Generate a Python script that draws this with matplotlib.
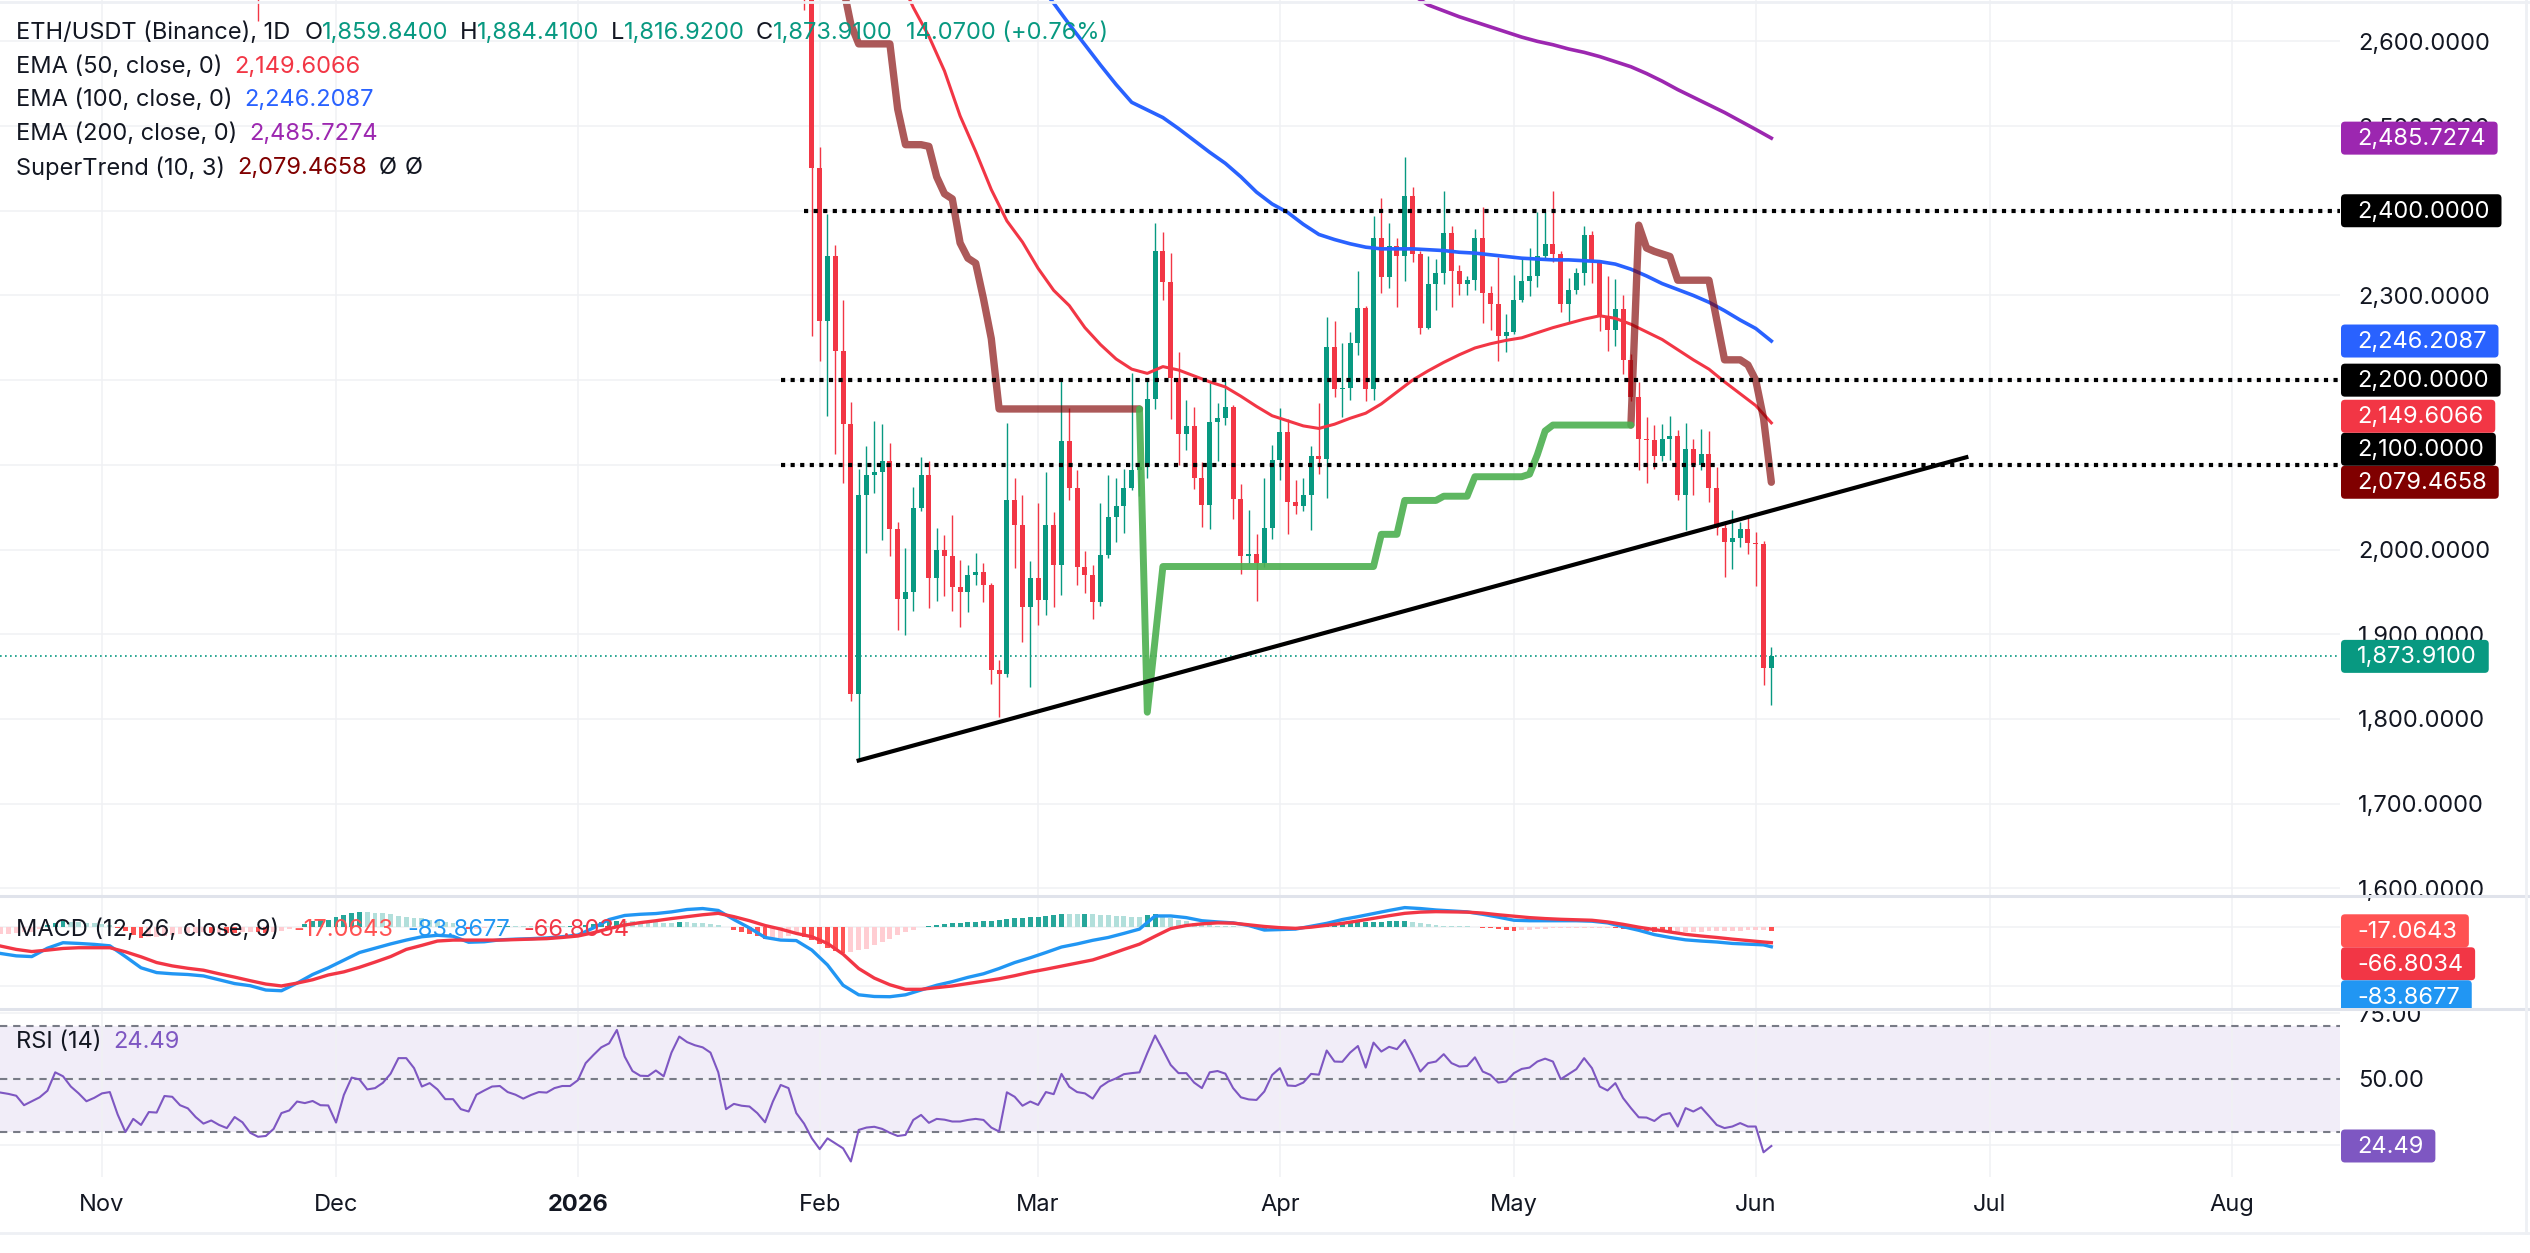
import numpy as np
import pandas as pd
import matplotlib
matplotlib.use("Agg")
import matplotlib.pyplot as plt
import matplotlib.dates as mdates
from matplotlib.lines import Line2D
from matplotlib.patches import FancyBboxPatch
from matplotlib.ticker import FuncFormatter
from matplotlib.transforms import IdentityTransform, Bbox

plt.rcParams["font.family"] = ["Inter", "DejaVu Sans"]

# ---------------- data ----------------
BASE = pd.Timestamp("2025-11-01")          # day 0 for the indicator series

# daily candles; only the Nov 21 wick and Jan 30 onwards reach into view
candle_dates = pd.DatetimeIndex(["2025-11-21"]).append(pd.date_range("2026-01-30", "2026-06-03"))
opens = [2832, 2790, 2705,
         2451, 2270, 2346, 2234, 2148, 1829, 2064, 2088, 2092, 2105, 2024, 1942, 1950, 2049, 2088, 1967,
         1999, 1992, 1956, 1950, 1970, 1973, 1958, 1858, 1853, 2058, 2029, 1932,
         1966, 1941, 2029, 1982, 2128, 2073, 1979, 1970, 1938, 1994, 2038, 2052, 2073, 2094, 2097, 2178,
         2352, 2316, 2203, 2137, 2146, 2084, 2053, 2151, 2155, 2168, 2060, 1992, 1995, 1984, 2026,
         2106, 2139, 2056, 2052, 2064, 2110, 2107, 2239, 2189, 2191, 2244, 2285, 2190, 2368, 2322, 2358,
         2347, 2418, 2349, 2262, 2313, 2327, 2374, 2329, 2313, 2318, 2368, 2303, 2290, 2252,
         2257, 2295, 2317, 2323, 2346, 2361, 2349, 2290, 2306, 2326, 2371, 2339, 2276, 2259, 2284, 2224,
         2180, 2131, 2129, 2110, 2130, 2134, 2065, 2119, 2100, 2113, 2073, 2026, 2009, 2014, 2024,
         2008, 2006, 1859.84]
highs = [2855, 2830, 2720,
         2475, 2396, 2359, 2295, 2174, 2095, 2122, 2152, 2148, 2126, 2033, 2002, 2074, 2109, 2104, 2026,
         2017, 2041, 1988, 1982, 1996, 1984, 1960, 1870, 2149, 2084, 2064, 1986,
         2055, 2092, 2044, 2199, 2167, 2094, 1998, 1982, 2055, 2088, 2085, 2095, 2209, 2106, 2202, 2385,
         2375, 2350, 2233, 2176, 2168, 2103, 2197, 2173, 2199, 2171, 2077, 2047, 2018, 2084, 2123,
         2167, 2154, 2082, 2084, 2122, 2173, 2274, 2270, 2244, 2257, 2329, 2288, 2394, 2415, 2385, 2368,
         2464, 2428, 2353, 2346, 2343, 2423, 2382, 2336, 2323, 2379, 2404, 2311, 2345, 2278,
         2324, 2343, 2356, 2398, 2398, 2423, 2352, 2321, 2333, 2382, 2376, 2340, 2323, 2319, 2300, 2231,
         2198, 2157, 2147, 2148, 2158, 2141, 2149, 2130, 2142, 2140, 2098, 2032, 2047, 2033, 2039,
         2021, 2010, 1884.41]
lows = [2624, 2637, 2252,
        2223, 2158, 2113, 2078, 1821, 1751, 1996, 2067, 2011, 1992, 1905, 1899, 1927, 2045, 1931, 1939,
        1945, 1927, 1909, 1926, 1958, 1938, 1841, 1802, 1849, 1978, 1891, 1838,
        1911, 1923, 1932, 1946, 2058, 1958, 1949, 1918, 1933, 1990, 2009, 2020, 2070, 2063, 2084, 2166,
        2295, 2154, 2100, 2117, 2072, 2027, 2024, 2104, 2147, 2036, 1971, 1984, 1939, 1980, 2012,
        2082, 2018, 2042, 2045, 2023, 2089, 2061, 2180, 2156, 2176, 2230, 2175, 2176, 2303, 2309, 2286,
        2317, 2340, 2254, 2260, 2283, 2313, 2286, 2300, 2300, 2306, 2267, 2259, 2223, 2233,
        2255, 2292, 2299, 2310, 2343, 2339, 2281, 2267, 2302, 2312, 2315, 2258, 2235, 2240, 2207, 2175,
        2094, 2079, 2095, 2105, 2106, 2059, 2023, 2064, 2094, 2056, 2017, 1968, 1977, 2003, 1995,
        1957, 1840, 1816.92]
closes = [2763, 2705, 2451,
          2270, 2346, 2234, 2148, 1829, 2064, 2088, 2092, 2105, 2024, 1942, 1950, 2049, 2088, 1967, 1999,
          1992, 1956, 1950, 1970, 1973, 1958, 1858, 1853, 2058, 2029, 1932, 1966,
          1941, 2029, 1982, 2128, 2073, 1979, 1970, 1938, 1994, 2038, 2052, 2073, 2094, 2097, 2178, 2352,
          2316, 2203, 2137, 2146, 2084, 2053, 2151, 2155, 2168, 2060, 1992, 1995, 1984, 2026, 2106,
          2139, 2056, 2052, 2064, 2110, 2107, 2239, 2189, 2191, 2244, 2285, 2190, 2368, 2322, 2358, 2347,
          2418, 2349, 2262, 2313, 2327, 2374, 2329, 2313, 2318, 2368, 2303, 2290, 2252, 2257,
          2295, 2317, 2323, 2346, 2361, 2349, 2290, 2306, 2326, 2371, 2339, 2276, 2259, 2284, 2224, 2180,
          2131, 2129, 2110, 2130, 2134, 2065, 2119, 2100, 2113, 2073, 2026, 2009, 2014, 2024, 2008,
          2006, 1860, 1873.91]

# moving averages (day offsets from BASE)
ema50_days = list(range(102, 213, 2)) + [214]
ema50 = [2680, 2640, 2606, 2565, 2512, 2470, 2425, 2388, 2363, 2332, 2306, 2288, 2262, 2242, 2225,
         2213, 2208, 2216, 2212, 2205, 2198, 2192, 2181, 2169, 2158, 2152, 2146, 2143, 2148, 2155,
         2161, 2172, 2186, 2200, 2211, 2221, 2230, 2238, 2243, 2247, 2250, 2256, 2262, 2267, 2272,
         2276, 2273, 2266, 2257, 2248, 2236, 2224, 2213, 2198, 2184, 2170, 2149.61]
ema100_days = list(range(120, 213, 2)) + [214]
ema100 = [2668, 2645, 2620, 2596, 2572, 2549, 2528, 2519, 2510, 2497, 2483, 2469, 2456, 2440, 2422,
          2408, 2398, 2384, 2372, 2366, 2361, 2357, 2355, 2355, 2355, 2354, 2353, 2351, 2350, 2348,
          2346, 2344, 2343, 2342, 2342, 2341, 2340, 2337, 2331, 2323, 2314, 2307, 2300, 2292, 2282,
          2271, 2261, 2246.21]
ema200_days = list(range(168, 213, 2)) + [214]
ema200 = [2655, 2643, 2636, 2629, 2623, 2617, 2611, 2605, 2600, 2596, 2591, 2587, 2582, 2576, 2570,
          2562, 2553, 2543, 2534, 2525, 2516, 2506, 2496, 2485.73]

# SuperTrend (10, 3): two down-trend runs and one up-trend run
st_down1_days = list(range(94, 134))
st_down1 = [2700, 2665, 2620, 2597, 2597, 2597, 2597, 2597, 2520, 2478, 2478, 2478, 2476, 2440, 2420,
            2414, 2362, 2344, 2338, 2296, 2249] + [2166] * 19
st_up_days = list(range(133, 197))
st_up = [2166, 1808, 1894] + [1980] * 28 + [2018] * 3 + [2058] * 5 + [2063] * 4 + [2086] * 7 \
        + [2089, 2112, 2140] + [2147] * 11
st_down2_days = list(range(196, 215))
st_down2 = [2147, 2383, 2356, 2352, 2349, 2346, 2318, 2318, 2318, 2318, 2318, 2271, 2224, 2224, 2224,
            2218, 2200, 2155, 2079.47]

# drawn levels and trendline
levels = [2400, 2200, 2100]
level_start = ["2026-01-30", "2026-01-27", "2026-01-27"]
trend_dates = ["2026-02-06", "2026-06-28"]
trend_prices = [1751, 2109]
last_price = 1873.91

# MACD (12, 26, close, 9)
macd_days = list(range(-13, 214, 2)) + [214]
macd_line = [-112, -122, -125, -90, -67, -70, -74, -80, -125, -172,
             -192, -197, -200, -206, -222, -238, -247, -265, -268, -236,
             -200, -172, -140, -108, -90, -72, -56, -42, -36, -40,
             -65, -63, -55, -52, -50, -47, -42, -35, -5, 30,
             47, 52, 55, 62, 72, 76, 68, 30, -5, -45,
             -56, -58, -98, -160, -245, -285, -292, -293, -285, -265,
             -245, -230, -212, -197, -175, -150, -130, -108, -85, -72,
             -57, -45, -28, -10, 45, 45, 38, 25, 20, 16,
             5, -14, -12, -10, 2, 14, 30, 42, 55, 68,
             80, 76, 70, 66, 62, 52, 40, 27, 25, 25,
             25, 25, 23, 16, 0, -15, -33, -45, -55, -60,
             -64, -70, -73, -76, -83.8677]
signal_line = [-81, -95, -104, -98, -91, -88, -88, -88, -105, -126,
               -150, -164, -174, -182, -197, -211, -226, -240, -248, -236,
               -222, -202, -189, -170, -148, -125, -95, -78, -60, -56,
               -56, -56, -56, -54, -52, -50, -45, -39, -25, -8,
               7, 17, 25, 34, 42, 50, 56, 42, 25, 5,
               -10, -28, -42, -70, -115, -175, -215, -243, -262, -262,
               -255, -248, -238, -228, -218, -205, -190, -178, -165, -152,
               -139, -118, -95, -73, -40, -8, 5, 12, 16, 15,
               8, 1, -4, -7, -2, 6, 14, 24, 35, 46,
               56, 61, 63, 62, 61, 57, 50, 44, 38, 34,
               31, 29, 27, 20, 10, -2, -12, -22, -32, -39,
               -45, -52, -58, -64, -66.8034]
hist_days = list(range(-13, 215))
hist = [-31, -29, -27, -24, -21, -8, 8, 16, 24, 21,
        18, 16, 14, 11, 8, -6, -20, -33, -46, -44,
        -42, -38, -33, -30, -26, -25, -24, -25, -25, -26,
        -27, -24, -21, -23, -25, -22, -20, -10, 0, 11,
        22, 26, 30, 40, 49, 56, 62, 60, 58, 56,
        53, 46, 39, 37, 36, 30, 24, 20, 16, 4,
        -9, -8, -7, -3, 1, 2, 2, 2, 2, 3,
        3, 3, 3, 4, 4, 8, 13, 18, 24, 25,
        24, 22, 21, 19, 18, 17, 17, 18, 18, 17,
        15, 11, 7, 0, -12, -21, -30, -40, -50, -48,
        -46, -38, -30, -43, -56, -73, -90, -100, -108, -104,
        -98, -93, -77, -63, -50, -36, -23, -13, -3, 4,
        8, 11, 14, 17, 19, 21, 22, 24, 28, 32,
        36, 38, 39, 42, 45, 48, 52, 52, 52, 53,
        53, 50, 47, 45, 43, 42, 41, 48, 55, 45,
        36, 29, 22, 16, 10, 6, 4, 2, 1, -1,
        -3, -9, -15, -11, -8, -5, -3, 0, 4, 6,
        8, 12, 16, 17, 18, 19, 20, 21, 22, 23,
        24, 19, 15, 11, 7, 5, 4, 2, 1, -2,
        -5, -7, -10, -13, -17, -15, -13, -11, -9, -7,
        -6, -5, -4, -4, -4, -4, -4, -7, -10, -11,
        -13, -17, -21, -22, -23, -23, -23, -22, -21, -20,
        -19, -18, -18, -16, -15, -13, -12, -17.0643]

# RSI (14), daily
rsi_days = list(range(-13, 215))
rsi = [44.8, 44.3, 43.6, 40.0, 41.5, 43.0, 45.5, 52.5, 51.0, 47.1,
       44.5, 41.5, 42.8, 44.5, 45.0, 36.5, 29.8, 34.8, 32.5, 37.4,
       37.2, 43.5, 43.2, 40.0, 38.8, 35.5, 33.0, 34.2, 32.5, 31.3,
       35.5, 33.5, 29.5, 28.0, 28.3, 31.0, 37.0, 38.0, 41.4, 40.8,
       41.6, 40.0, 39.9, 33.4, 43.9, 50.5, 49.8, 46.0, 46.5, 48.5,
       52.0, 57.9, 57.9, 54.1, 47.1, 48.4, 46.0, 42.3, 42.3, 38.5,
       37.6, 44.0, 45.6, 47.1, 47.3, 45.0, 44.0, 42.5, 43.9, 45.0,
       44.8, 46.5, 47.3, 47.3, 49.5, 56.0, 59.1, 62.0, 63.5, 68.6,
       58.5, 53.0, 51.2, 51.1, 53.2, 51.0, 60.0, 66.1, 64.0, 62.8,
       62.0, 60.0, 52.5, 38.5, 40.5, 39.8, 39.5, 37.0, 33.5, 41.4,
       47.7, 46.5, 37.0, 33.0, 27.4, 23.3, 27.4, 25.5, 23.6, 18.6,
       30.6, 31.5, 31.8, 31.0, 29.5, 28.3, 28.7, 34.4, 36.3, 33.3,
       34.8, 34.5, 33.8, 33.8, 34.4, 34.8, 34.4, 31.5, 30.0, 44.9,
       43.2, 39.8, 41.4, 40.1, 45.0, 44.2, 51.9, 47.0, 45.0, 44.5,
       42.5, 47.0, 49.0, 50.2, 51.8, 52.2, 52.5, 59.8, 66.5, 61.0,
       55.3, 52.2, 52.2, 48.6, 46.5, 52.5, 53.0, 52.0, 46.5, 43.0,
       42.2, 42.0, 45.2, 51.5, 54.1, 47.5, 47.3, 48.6, 51.9, 51.6,
       60.8, 56.6, 56.5, 60.0, 62.5, 54.3, 63.8, 60.4, 62.2, 61.3,
       64.8, 59.1, 52.8, 56.0, 56.6, 59.4, 56.0, 54.7, 54.9, 58.2,
       52.8, 51.5, 48.6, 49.0, 52.2, 53.8, 54.3, 56.6, 57.7, 56.6,
       49.9, 51.8, 53.7, 57.9, 54.1, 47.1, 45.6, 48.4, 42.7, 38.9,
       35.4, 35.3, 34.0, 36.3, 37.0, 31.9, 38.9, 37.6, 39.2, 35.9,
       32.5, 31.3, 31.9, 33.2, 31.9, 31.9, 22.1, 24.49]

month_ticks = ["2025-11-01", "2025-12-01", "2026-01-01", "2026-02-01", "2026-03-01",
               "2026-04-01", "2026-05-01", "2026-06-01", "2026-07-01", "2026-08-01"]
month_labels = ["Nov", "Dec", "2026", "Feb", "Mar", "Apr", "May", "Jun", "Jul", "Aug"]

# ---------------- styling ----------------
W, H = 2530, 1253
PLOT_R = 2340
TXT = "#131722"
UP, DOWN = "#089981", "#f23645"
GRID = "#f0f1f4"
SEP = "#e0e3eb"
AXFS = 17


def dnum(days):
    return mdates.date2num(BASE + pd.to_timedelta(np.asarray(days, dtype=float), unit="D"))


fig = plt.figure(figsize=(W / 100, H / 100), dpi=100)
fig.patch.set_facecolor("white")
rend = fig.canvas.get_renderer()


def pane(top, bottom):
    a = fig.add_axes([0, 1 - bottom / H, PLOT_R / W, (bottom - top) / H])
    a.set_facecolor("white")
    for s in a.spines.values():
        s.set_visible(False)
    a.tick_params(length=0)
    return a


ax = pane(0, 895)
axm = pane(897, 1008)
axr = pane(1010, 1177)

xlim = (dnum(-13.08)[()], dnum(286.9)[()])
mt = mdates.date2num(pd.to_datetime(month_ticks))
for a in (ax, axm, axr):
    a.set_xlim(*xlim)
    a.set_xticks(mt)
    a.grid(True, axis="x", color=GRID, lw=1.1, zorder=0)

# ---- main pane ----
covered = {2100, 2200, 2400}       # scale labels hidden under the level tags
ax.set_ylim(1592.2, 2648.8)
ax.yaxis.tick_right()
ax.set_yticks(range(1600, 2700, 100))
ax.yaxis.set_major_formatter(FuncFormatter(
    lambda v, _: "" if round(v) in covered else f"{v:,.4f}"))
ax.tick_params(axis="y", labelsize=AXFS, pad=13, labelcolor=TXT)
ax.tick_params(axis="x", labelbottom=False)
ax.grid(True, axis="y", color=GRID, lw=1.1, zorder=0)

cx = mdates.date2num(candle_dates)
o, hi, lo, c = map(np.asarray, (opens, highs, lows, closes))
col = np.where(c >= o, UP, DOWN)
ax.vlines(cx, lo, hi, colors=col, lw=1.0, zorder=3)
ax.bar(cx, np.maximum(np.abs(c - o), 1.5), bottom=np.minimum(o, c), width=0.64,
       color=col, lw=0, zorder=3)

ax.plot(dnum(ema50_days), ema50, color="#f23645", lw=2.2, zorder=4)
ax.plot(dnum(ema100_days), ema100, color="#2962ff", lw=2.6, zorder=4)
ax.plot(dnum(ema200_days), ema200, color="#9c27b0", lw=2.6, zorder=4)

for d, v in ((st_down1_days, st_down1), (st_down2_days, st_down2)):
    ax.plot(dnum(d), v, color="#800000", alpha=0.65, lw=5.3, zorder=5, solid_capstyle="round")
ax.plot(dnum(st_up_days), st_up, color="#4caf50", alpha=0.9, lw=5.0, zorder=5, solid_capstyle="round")

for lv, st in zip(levels, level_start):
    ax.hlines(lv, mdates.date2num(pd.Timestamp(st)), xlim[1], color="black", lw=3.0,
              linestyles=(0, (1, 1.3)), zorder=6)
ax.plot(mdates.date2num(pd.to_datetime(trend_dates)), trend_prices, color="black", lw=3.0, zorder=6)
ax.axhline(last_price, color=UP, lw=1.2, ls=(0, (1, 2)), zorder=2)

# ---- MACD pane ----
axm.set_ylim(-340.2, 124.3)
axm.set_yticks([0, -250])
axm.tick_params(axis="y", labelleft=False, labelright=False)
axm.tick_params(axis="x", labelbottom=False)
axm.grid(True, axis="y", color=GRID, lw=1.1, zorder=0)
hv = np.asarray(hist, dtype=float)
prev = np.concatenate([[hv[0]], hv[:-1]])
hcol = np.where(hv >= 0, np.where(hv > prev, "#26a69a", "#b2dfdb"),
                np.where(hv < prev, "#ff5252", "#ffcdd2"))
axm.bar(dnum(hist_days), hv, width=0.62, color=hcol, lw=0, zorder=2)
axm.plot(dnum(macd_days), macd_line, color="#2196f3", lw=2.4, zorder=3)
axm.plot(dnum(macd_days), signal_line, color="#f23645", lw=2.4, zorder=3)

# ---- RSI pane ----
axr.set_ylim(12.7, 76.2)
axr.yaxis.tick_right()
axr.set_yticks([25, 50, 75])
axr.yaxis.set_major_formatter(FuncFormatter(lambda v, _: "" if v == 25 else f"{v:.2f}"))
axr.tick_params(axis="y", labelsize=AXFS, pad=13, labelcolor=TXT)
axr.grid(True, axis="y", color=GRID, lw=1.1, zorder=0)
axr.axhspan(30, 70, color="#7e57c2", alpha=0.1, lw=0, zorder=1)
for lv in (70, 50, 30):
    axr.axhline(lv, color="#787b86", lw=1.5, ls=(0, (3.5, 2.8)), zorder=2)
axr.plot(dnum(rsi_days), rsi, color="#7e57c2", lw=1.5, zorder=3)
axr.set_xticklabels(month_labels)
axr.tick_params(axis="x", labelsize=AXFS, pad=12, labelcolor=TXT)
axr.get_xticklabels()[2].set_fontweight("bold")

# ---- separators / borders ----
for y in (896, 1009):
    fig.add_artist(Line2D([0, W], [H - y, H - y], color=SEP, lw=2.2, transform=IdentityTransform()))
fig.add_artist(Line2D([0, W], [H - 1233, H - 1233], color="#eef0f4", lw=2, transform=IdentityTransform()))
fig.add_artist(Line2D([0, W], [H - 1.5, H - 1.5], color="#eef0f4", lw=2, transform=IdentityTransform()))
fig.add_artist(Line2D([W - 4, W - 4], [H - 1233, H], color="#eef0f4", lw=2, transform=IdentityTransform()))


# ---- value tags on the price scales ----
def ypix(a, v):
    return H - a.transData.transform((xlim[0], v))[1]


def tags(a, items, upward, clip=None, bh=33):
    items = [[ypix(a, v), lab, colr] for v, lab, colr in items]
    items.sort(key=lambda it: it[0], reverse=upward)
    prev_y = None
    for it in items:
        if prev_y is not None:
            if upward and it[0] > prev_y - bh:
                it[0] = prev_y - bh
            if not upward and it[0] < prev_y + bh:
                it[0] = prev_y + bh
        prev_y = it[0]
    for yc, lab, colr in items:
        t = fig.text((PLOT_R + 17) / W, 1 - (yc + 1) / H, lab, color="white", fontsize=AXFS,
                     va="center", ha="left", zorder=8)
        tw = t.get_window_extent(renderer=rend).width
        p = FancyBboxPatch((PLOT_R + 1, H - yc - bh / 2), tw + 28, bh,
                           boxstyle="round,pad=0,rounding_size=4", transform=IdentityTransform(),
                           fc=colr, ec="none", zorder=7)
        fig.add_artist(p)
        if clip is not None:
            p.set_clip_box(clip)
            t.set_clip_box(clip)
            t.set_clip_on(True)


tags(ax, [(2485.7274, "2,485.7274", "#9c27b0"), (2400, "2,400.0000", "#000000"),
          (2246.2087, "2,246.2087", "#2962ff"), (2200, "2,200.0000", "#000000"),
          (2149.6066, "2,149.6066", "#f23645"), (2100, "2,100.0000", "#000000"),
          (2079.4658, "2,079.4658", "#800000"), (last_price, "1,873.9100", UP)], upward=True)
tags(axm, [(-17.0643, "-17.0643", "#ff5252"), (-66.8034, "-66.8034", "#f23645"),
           (-83.8677, "-83.8677", "#2196f3")], upward=False,
     clip=Bbox.from_extents(0, H - 1008, W, H - 897))
tags(axr, [(24.49, "24.49", "#7e57c2")], upward=False)


# ---- legends ----
def legend_row(x, y, pieces, size=17):
    for s, colr, gap in pieces:
        t = fig.text(x / W, 1 - y / H, s, color=colr, fontsize=size, va="center", ha="left", zorder=9)
        x += t.get_window_extent(renderer=rend).width + gap


legend_row(16, 33, [("ETH/USDT (Binance), 1D", TXT, 14), ("O", TXT, 0), ("1,859.8400", UP, 11),
                    ("H", TXT, 0), ("1,884.4100", UP, 11), ("L", TXT, 0), ("1,816.9200", UP, 11),
                    ("C", TXT, 0), ("1,873.9100", UP, 13), ("14.0700 (+0.76%)", UP, 0)])
legend_row(16, 67, [("EMA (50, close, 0)", TXT, 12), ("2,149.6066", "#f23645", 0)])
legend_row(16, 100, [("EMA (100, close, 0)", TXT, 12), ("2,246.2087", "#2962ff", 0)])
legend_row(16, 134, [("EMA (200, close, 0)", TXT, 12), ("2,485.7274", "#9c27b0", 0)])
legend_row(16, 168, [("SuperTrend (10, 3)", TXT, 12), ("2,079.4658", "#800000", 12),
                     ("Ø", TXT, 8), ("Ø", TXT, 0)])
legend_row(16, 930, [("MACD (12, 26, close, 9)", TXT, 14), ("-17.0643", "#ff5252", 14),
                     ("-83.8677", "#2196f3", 14), ("-66.8034", "#f23645", 0)])
legend_row(16, 1042, [("RSI (14)", TXT, 12), ("24.49", "#7e57c2", 0)])

fig.savefig("out.png", dpi=100, facecolor="white")
